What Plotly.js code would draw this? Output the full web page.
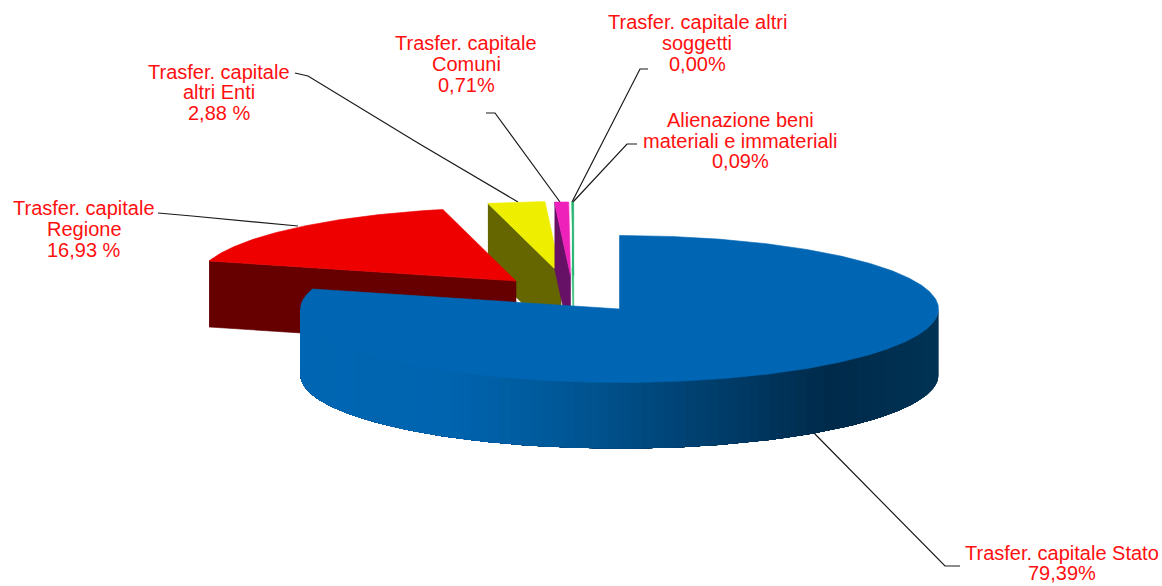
<!DOCTYPE html>
<html><head><meta charset="utf-8">
<script src="https://cdn.plot.ly/plotly-3.0.1.min.js"></script>
<style>html,body{margin:0;padding:0;background:#fff}#c{width:1162px;height:586px}</style>
</head><body><div id="c"></div>
<script>
// --- data ---
const categories = ["Trasfer. capitale Stato","Trasfer. capitale Regione","Trasfer. capitale altri Enti","Trasfer. capitale Comuni","Alienazione beni materiali e immateriali","Trasfer. capitale altri soggetti"];
const shares = [79.39, 16.93, 2.88, 0.71, 0.09, 0.00];

// --- drawing style and geometry ---
const topColors  = ["#0066b3","#ee0000","#eeee00","#ee22bb","#22b070","#ffffff"];
const faceColors = ["#0066b3","#660000","#666600","#661166","#33bb77","#ffffff"];
const apexX = [619.5, 516, 561, 570.5, 573.7, 573.7];
const apexY = [309, 281, 275, 275.5, 275.5, 275.5];
const RX = 319, RY = 73.5, DEPTH = 66;
const wallStopX = [300,450,560,700,830,940];
const wallStopRGB = [[0,102,179],[0,100,175],[0,88,152],[0,64,112],[0,42,74],[0,51,85]];
const paintOrder = [2,3,4,1,0];

const traces = [];
function poly(x, y, color, lw){
  traces.push({type:"scatter",mode:"lines",x,y,fill:"toself",fillcolor:color,
    line:{color:color,width:lw},hoverinfo:"skip",showlegend:false});
}
function rim(i,deg){
  const a = deg*Math.PI/180;
  return [apexX[i]+RX*Math.sin(a), apexY[i]-RY*Math.cos(a)];
}
function wallColor(x){
  let k=0; while(k<wallStopX.length-2 && x>wallStopX[k+1]) k++;
  const t=Math.min(1,Math.max(0,(x-wallStopX[k])/(wallStopX[k+1]-wallStopX[k])));
  const c=wallStopRGB[k].map((v,j)=>Math.round(v+(wallStopRGB[k+1][j]-v)*t));
  return `rgb(${c[0]},${c[1]},${c[2]})`;
}
const total = shares.reduce((a,b)=>a+b,0);
const startDeg=[]; let acc=0;
shares.forEach(s=>{startDeg.push(acc/total*360); acc+=s;});

paintOrder.forEach(i=>{
  const a0=startDeg[i], a1=a0+shares[i]/total*360;
  // outer wall: each strip runs on to the end of the wall and the next one paints over it
  const w0=Math.max(a0,90), w1=Math.min(a1,270);
  if(w1>w0){
    const step=2;
    for(let d=w0;d<w1;d+=step){
      const xs=[],ys=[];
      for(let q=d;q<=w1+1e-6;q+=1){const p=rim(i,q);xs.push(p[0]);ys.push(p[1]);}
      for(let q=w1;q>=d-1e-6;q-=1){const p=rim(i,q);xs.push(p[0]);ys.push(p[1]+DEPTH);}
      poly(xs,ys,wallColor(rim(i,d+step/2)[0]),0);
    }
  }
  // cut face along the starting radius
  if(i!==0){
    const p=rim(i,a0);
    poly([p[0],apexX[i],apexX[i],p[0]],[p[1],apexY[i],apexY[i]+DEPTH,p[1]+DEPTH],faceColors[i],0.6);
  }
  // top surface
  const xs=[apexX[i]],ys=[apexY[i]], n=Math.max(2,Math.ceil((a1-a0)/0.5));
  for(let k=0;k<=n;k++){const p=rim(i,a0+(a1-a0)*k/n);xs.push(p[0]);ys.push(p[1]);}
  xs.push(apexX[i]);ys.push(apexY[i]);
  poly(xs,ys,topColors[i],0.6);
});

// --- labels ---
const labelBlocks=[
  {cx:219,ys:[72,92,113],lines:["Trasfer. capitale","altri Enti","2,88 %"]},
  {cx:84,ys:[208,229,250],lines:["Trasfer. capitale","Regione","16,93 %"]},
  {cx:466,ys:[43,64,85],lines:["Trasfer. capitale","Comuni","0,71%"]},
  {cx:697,ys:[22,43,64],lines:["Trasfer. capitale altri","soggetti","0,00%"]},
  {cx:740,ys:[120,141,161],lines:["Alienazione beni","materiali e immateriali","0,09%"]},
  {cx:1062,ys:[553,573],lines:["Trasfer. capitale Stato","79,39%"]}
];
const annotations=[];
labelBlocks.forEach(b=>b.lines.forEach((t,k)=>annotations.push({
  xref:"x",yref:"y",x:b.cx,y:b.ys[k],text:t,showarrow:false,xanchor:"center",yanchor:"middle",
  font:{family:"Liberation Sans, Arial, sans-serif",size:20,color:"#ff1010"}
})));
const leaderPaths=[
  "M812,431 L945,566 L960,566",
  "M158,213 L192,216 L298,226",
  "M295,73 L308,76 L418,143 L518,202",
  "M486,113 L495,113 L560,202",
  "M648,69 L640,69 L572,202",
  "M637,144 L627,144 L573,202"
];
const shapes=leaderPaths.map(p=>({type:"path",path:p,xref:"x",yref:"y",line:{color:"#1a1a1a",width:1.2},layer:"below"}));

Plotly.newPlot("c",traces,{
  width:1162,height:586,margin:{l:0,r:0,t:0,b:0},
  paper_bgcolor:"#ffffff",plot_bgcolor:"#ffffff",showlegend:false,
  xaxis:{range:[0,1162],visible:false,fixedrange:true},
  yaxis:{range:[586,0],visible:false,fixedrange:true},
  annotations,shapes
},{displayModeBar:false,staticPlot:true});
</script></body></html>
